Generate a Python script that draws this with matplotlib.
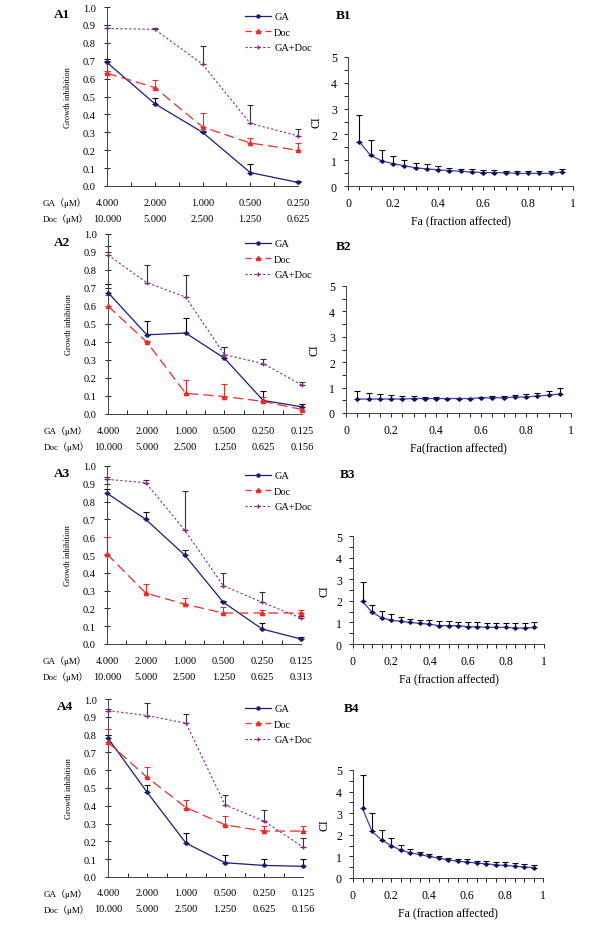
import numpy as np
import matplotlib
matplotlib.use("Agg")
import matplotlib.pyplot as plt
from matplotlib.lines import Line2D

plt.rcParams['font.family'] = ['Liberation Serif', 'Noto Sans CJK SC', 'DejaVu Sans']

W, H = 600, 953

# DATA
ga_conc_1 = ['4.000', '2.000', '1.000', '0.500', '0.250']
doc_conc_1 = ['10.000', '5.000', '2.500', '1.250', '0.625']
ga_conc_2 = ['4.000', '2.000', '1.000', '0.500', '0.250', '0.125']
doc_conc_2 = ['10.000', '5.000', '2.500', '1.250', '0.625', '0.156']
ga_conc_3 = ['4.000', '2.000', '1.000', '0.500', '0.250', '0.125']
doc_conc_3 = ['10.000', '5.000', '2.500', '1.250', '0.625', '0.313']
ga_conc_4 = ['4.000', '2.000', '1.000', '0.500', '0.250', '0.125']
doc_conc_4 = ['10.000', '5.000', '2.500', '1.250', '0.625', '0.156']

ga_a1 = [0.69, 0.46, 0.30, 0.075, 0.02]
ga_a1_err = [0.02, 0.03, 0.005, 0.05, 0.01]
doc_a1 = [0.63, 0.55, 0.33, 0.24, 0.20]
doc_a1_err = [0.01, 0.04, 0.08, 0.03, 0.04]
combo_a1 = [0.88, 0.875, 0.68, 0.35, 0.28]
combo_a1_err = [0.02, 0.005, 0.10, 0.10, 0.04]

ga_a2 = [0.675, 0.44, 0.45, 0.31, 0.075, 0.04]
ga_a2_err = [0.05, 0.075, 0.085, 0.06, 0.055, 0.015]
doc_a2 = [0.60, 0.40, 0.115, 0.097, 0.07, 0.025]
doc_a2_err = [0.06, 0.005, 0.075, 0.07, 0.023, 0.015]
combo_a2 = [0.883, 0.73, 0.65, 0.33, 0.28, 0.16]
combo_a2_err = [0.05, 0.10, 0.12, 0.04, 0.025, 0.02]

ga_a3 = [0.847, 0.70, 0.50, 0.234, 0.084, 0.028]
ga_a3_err = [0.023, 0.04, 0.03, 0.01, 0.036, 0.012]
doc_a3 = [0.505, 0.286, 0.224, 0.174, 0.174, 0.174]
doc_a3_err = [0.095, 0.049, 0.034, 0.036, 0.016, 0.016]
combo_a3 = [0.925, 0.906, 0.64, 0.327, 0.234, 0.146]
combo_a3_err = [0.015, 0.014, 0.22, 0.073, 0.056, 0.014]

ga_a4 = [0.78, 0.477, 0.19, 0.08, 0.065, 0.06]
ga_a4_err = [0.02, 0.041, 0.057, 0.045, 0.035, 0.04]
doc_a4 = [0.757, 0.56, 0.39, 0.293, 0.258, 0.258]
doc_a4_err = [0.073, 0.057, 0.04, 0.049, 0.026, 0.026]
combo_a4 = [0.935, 0.907, 0.864, 0.405, 0.314, 0.168]
combo_a4_err = [0.01, 0.07, 0.052, 0.053, 0.06, 0.052]

fa = [0.05, 0.10, 0.15, 0.20, 0.25, 0.30, 0.35, 0.40, 0.45, 0.50,
      0.55, 0.60, 0.65, 0.70, 0.75, 0.80, 0.85, 0.90, 0.95]

ci_b1 = [1.72, 1.19, 0.97, 0.87, 0.78, 0.71, 0.66, 0.63, 0.60, 0.57,
         0.54, 0.52, 0.52, 0.52, 0.49, 0.49, 0.49, 0.49, 0.54]
ci_b1_up = [2.77, 1.78, 1.40, 1.16, 1.00, 0.90, 0.84, 0.78, 0.71, 0.67,
            0.65, 0.62, 0.62, 0.60, 0.60, 0.58, 0.60, 0.60, 0.65]

ci_b2 = [0.55, 0.55, 0.55, 0.55, 0.55, 0.57, 0.57, 0.57, 0.57, 0.57,
         0.57, 0.60, 0.60, 0.60, 0.63, 0.63, 0.67, 0.70, 0.75]
ci_b2_up = [0.86, 0.78, 0.73, 0.69, 0.67, 0.65, 0.63, 0.62, 0.60, 0.59,
            0.60, 0.63, 0.66, 0.68, 0.72, 0.76, 0.80, 0.86, 1.00]

ci_b3 = [1.97, 1.46, 1.22, 1.10, 1.05, 1.00, 0.95, 0.92, 0.85, 0.85,
         0.85, 0.80, 0.80, 0.77, 0.77, 0.77, 0.74, 0.74, 0.77]
ci_b3_up = [2.85, 1.82, 1.52, 1.37, 1.25, 1.18, 1.12, 1.09, 1.08, 1.05,
            1.03, 1.00, 1.00, 0.97, 0.97, 0.97, 0.97, 0.97, 1.00]

ci_b4 = [3.22, 2.16, 1.76, 1.50, 1.30, 1.17, 1.09, 1.00, 0.92, 0.84,
         0.78, 0.74, 0.69, 0.66, 0.61, 0.58, 0.55, 0.51, 0.48]
ci_b4_up = [4.78, 2.99, 2.24, 1.84, 1.55, 1.35, 1.20, 1.09, 1.00, 0.92,
            0.89, 0.86, 0.81, 0.78, 0.74, 0.74, 0.70, 0.66, 0.61]

C_GA = '#1c1c7a'
C_DOC = '#ee2a2a'
C_COMBO = '#8a2a8a'
C_BLINE = '#4040b0'


def rect(l, t, r, b):
    return [l / W, 1 - b / H, (r - l) / W, (b - t) / H]


def fig_xy(x, y):
    return x / W, 1 - y / H


fig = plt.figure(figsize=(6, 9.53), dpi=100)

a_panels = [
    ('A1', rect(107, 8, 298, 187), ga_conc_1, doc_conc_1,
     (ga_a1, ga_a1_err), (doc_a1, doc_a1_err), (combo_a1, combo_a1_err), (62, 15)),
    ('A2', rect(108, 235, 302, 415), ga_conc_2, doc_conc_2,
     (ga_a2, ga_a2_err), (doc_a2, doc_a2_err), (combo_a2, combo_a2_err), (62, 243)),
    ('A3', rect(107, 467, 301, 645), ga_conc_3, doc_conc_3,
     (ga_a3, ga_a3_err), (doc_a3, doc_a3_err), (combo_a3, combo_a3_err), (62, 474)),
    ('A4', rect(108, 700, 303, 878), ga_conc_4, doc_conc_4,
     (ga_a4, ga_a4_err), (doc_a4, doc_a4_err), (combo_a4, combo_a4_err), (65, 707)),
]

for name, box, ga_lab, doc_lab, ga, doc, combo, lab_pos in a_panels:
    ax = fig.add_axes(box)
    x = np.arange(len(ga_lab))
    n = len(x)
    bw, bh = box[2] * W, box[3] * H

    ax.errorbar(x, ga[0], yerr=[np.zeros(n), ga[1]], fmt='none', ecolor='black',
                elinewidth=0.8, capsize=2.5, capthick=0.8, clip_on=False, zorder=2)
    ax.errorbar(x, doc[0], yerr=[np.zeros(n), doc[1]], fmt='none', ecolor=C_DOC,
                elinewidth=0.8, capsize=2.5, capthick=0.8, clip_on=False, zorder=2)
    ax.errorbar(x, combo[0], yerr=[np.zeros(n), combo[1]], fmt='none', ecolor='#333333',
                elinewidth=0.8, capsize=2.5, capthick=0.8, clip_on=False, zorder=2)

    ax.plot(x, ga[0], color=C_GA, lw=0.9, marker='o', ms=2.2, clip_on=False, zorder=3)
    ax.plot(x, doc[0], color=C_DOC, lw=0.9, ls=(0, (8, 4)), marker='^', ms=3,
            clip_on=False, zorder=3)
    ax.plot(x, combo[0], color=C_COMBO, lw=0.8, ls=(0, (2, 2)), marker='+', ms=3.5,
            mew=1.0, clip_on=False, zorder=3)

    ax.set_xlim(0, n - 1)
    ax.set_ylim(0, 1.0)
    ax.set_yticks(np.arange(0, 1.01, 0.1))
    ax.set_yticklabels(['%.1f' % v for v in np.arange(0, 1.01, 0.1)])
    ax.set_xticks([])
    ax.set_xticks(np.arange(0.5, n - 1, 0.5), minor=True)
    ax.tick_params(axis='x', which='minor', direction='in', length=3, width=0.6)
    ax.tick_params(axis='y', direction='inout', length=4, width=0.6, labelsize=7.5, pad=6)
    for s in ['top', 'right']:
        ax.spines[s].set_visible(False)
    for s in ['left', 'bottom']:
        ax.spines[s].set_linewidth(0.7)
        ax.spines[s].set_color('#444444')
    ax.set_ylabel('Growth inhibition', fontsize=6)
    ax.yaxis.set_label_coords(-35 / bw, 0.5)

    # concentration rows beneath the axis
    for k in range(n):
        ax.text(x[k], -16 / bh, ga_lab[k], transform=ax.get_xaxis_transform(),
                ha='center', va='center', fontsize=7.5)
        ax.text(x[k], -32 / bh, doc_lab[k], transform=ax.get_xaxis_transform(),
                ha='center', va='center', fontsize=7.5)
    ax.text(-64 / bw, -16 / bh, 'GA（μM）', transform=ax.transAxes,
            ha='left', va='center', fontsize=6.5)
    ax.text(-64 / bw, -32 / bh, 'Doc（μM）', transform=ax.transAxes,
            ha='left', va='center', fontsize=6.5)

    fx, fy = fig_xy(*lab_pos)
    fig.text(fx, fy, name, fontsize=9.5, fontweight='bold', ha='center', va='center')

    handles = [
        Line2D([], [], color=C_GA, lw=0.9, marker='o', ms=2.2),
        Line2D([], [], color=C_DOC, lw=0.9, ls=(0, (5, 3)), marker='^', ms=3),
        Line2D([], [], color=C_COMBO, lw=0.8, ls=(0, (2, 2)), marker='+', ms=3.5),
    ]
    ax.legend(handles, ['GA', 'Doc', 'GA+Doc'], loc='upper left',
              bbox_to_anchor=((245 - box[0] * W) / bw, 1 - 5 / bh),
              frameon=False, fontsize=7.5, borderpad=0,
              handlelength=2.5, handletextpad=0.3, labelspacing=0.6,
              borderaxespad=0)

b_panels = [
    ('B1', rect(348, 58, 573, 187), ci_b1, ci_b1_up, 'Fa (fraction affected)', (343, 16), 322),
    ('B2', rect(346, 287, 571, 414), ci_b2, ci_b2_up, 'Fa(fraction affected)', (343, 247), 321),
    ('B3', rect(353, 537, 544, 645), ci_b3, ci_b3_up, 'Fa (fraction affected)', (348, 475), 330),
    ('B4', rect(353, 771, 543, 879), ci_b4, ci_b4_up, 'Fa (fraction affected)', (352, 709), 330),
]

for name, box, ci, ci_up, xlab, lab_pos, ylab_x in b_panels:
    ax = fig.add_axes(box)
    bw = box[2] * W
    ci = np.array(ci)
    up = np.array(ci_up) - ci
    ax.errorbar(fa, ci, yerr=[np.zeros(len(ci)), up], fmt='none', ecolor='black',
                elinewidth=0.8, capsize=2.5, capthick=0.8, zorder=2)
    ax.plot(fa, ci, color=C_BLINE, lw=0.9, zorder=3)
    ax.plot(fa, ci, ls='none', marker='D', ms=1.8, color='#101060', zorder=4)

    ax.set_xlim(0, 1)
    ax.set_ylim(0, 5)
    ax.set_xticks([0, 0.2, 0.4, 0.6, 0.8, 1.0])
    ax.set_xticklabels(['0', '0.2', '0.4', '0.6', '0.8', '1'])
    ax.set_xticks(np.arange(0, 1.001, 0.05), minor=True)
    ax.set_yticks([0, 1, 2, 3, 4, 5])
    ax.set_yticks(np.arange(0, 5.01, 0.5), minor=True)
    ax.tick_params(which='both', direction='out', length=3, width=0.6,
                   labelsize=8.5, pad=5)
    for s in ['top', 'right']:
        ax.spines[s].set_visible(False)
    for s in ['left', 'bottom']:
        ax.spines[s].set_linewidth(0.7)
        ax.spines[s].set_color('#444444')
    ax.set_ylabel('CI', fontsize=8.5)
    ax.yaxis.set_label_coords((ylab_x - box[0] * W) / bw, 0.5)
    ax.set_xlabel(xlab, fontsize=8.5, labelpad=4)

    fx, fy = fig_xy(*lab_pos)
    fig.text(fx, fy, name, fontsize=9.5, fontweight='bold', ha='center', va='center')

fig.savefig('out.png', dpi=100)
